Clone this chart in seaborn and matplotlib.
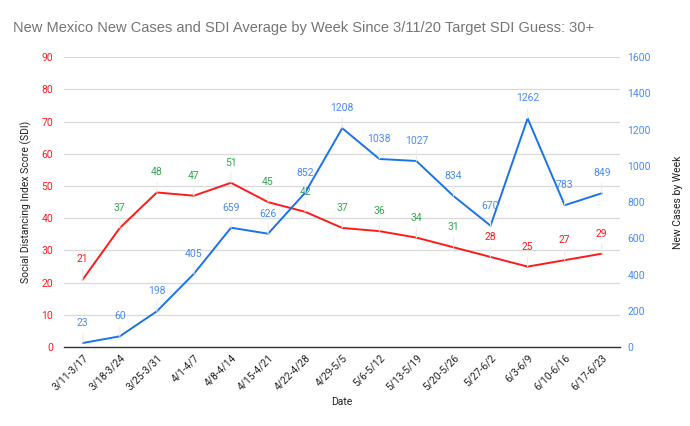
import matplotlib
matplotlib.use("Agg")
import matplotlib.pyplot as plt
import seaborn as sns
import pandas as pd

weeks = ["3/11-3/17", "3/18-3/24", "3/25-3/31", "4/1-4/7", "4/8-4/14", "4/15-4/21",
         "4/22-4/28", "4/29-5/5", "5/6-5/12", "5/13-5/19", "5/20-5/26", "5/27-6/2",
         "6/3-6/9", "6/10-6/16", "6/17-6/23"]
sdi = [21, 37, 48, 47, 51, 45, 42, 37, 36, 34, 31, 28, 25, 27, 29]
cases = [23, 60, 198, 405, 659, 626, 852, 1208, 1038, 1027, 834, 670, 1262, 783, 849]
sdi_label_colors = ["red", "green", "green", "green", "green", "green", "green", "green",
                    "green", "green", "green", "red", "red", "red", "red"]
left_ticks = [0, 10, 20, 30, 40, 50, 60, 70, 80, 90]
right_ticks = [0, 200, 400, 600, 800, 1000, 1200, 1400, 1600]

df = pd.DataFrame({"x": list(range(len(weeks))), "week": weeks, "sdi": sdi, "cases": cases})

sns.set_theme(style="white")
plt.rcParams["font.family"] = ["Roboto", "DejaVu Sans"]

RED = "#ff1a1a"
BLUE_LINE = "#1a73e8"
BLUE_TXT = "#4a8af4"
GREEN = "#34a853"
colmap = {"red": "#ff1a1a", "green": GREEN}

fig = plt.figure(figsize=(6.9, 4.26), dpi=100)
ax = fig.add_axes([0.093, 0.185, 0.806, 0.681])
ax2 = ax.twinx()

sns.lineplot(data=df, x="x", y="sdi", ax=ax, color=RED, linewidth=1.4)
sns.lineplot(data=df, x="x", y="cases", ax=ax2, color=BLUE_LINE, linewidth=1.4)

ax.set_xlim(-0.5, 14.5)
ax.set_ylim(0, 90)
ax2.set_ylim(0, 1600)
ax.set_yticks(left_ticks)
ax2.set_yticks(right_ticks)
ax.set_xticks(range(len(weeks)))
ax.set_xticklabels(weeks, rotation=45, ha="right", rotation_mode="anchor", fontsize=7.4, color="#222222")

ax.tick_params(axis="y", colors=RED, labelsize=7.5, length=0, pad=8)
ax2.tick_params(axis="y", colors=BLUE_TXT, labelsize=7.5, length=0, pad=5)
ax.tick_params(axis="x", length=0, pad=4)

ax.grid(axis="y", color="#d9d9d9", linewidth=0.9)
ax.grid(axis="x", visible=False)
ax2.grid(False)
for a in (ax, ax2):
    for s in a.spines.values():
        s.set_visible(False)
ax.spines["bottom"].set_visible(True)
ax.spines["bottom"].set_color("#333333")
ax.spines["bottom"].set_linewidth(1.0)

ax.set_ylabel("Social Distancing Index Score (SDI)", fontsize=7.5, color="#222222", labelpad=7)
ax2.set_ylabel("New Cases by Week", fontsize=7.5, color="#222222", labelpad=16)
ax.set_xlabel("Date", fontsize=7.5, color="#222222", labelpad=3)

off = 15
for i, (v, c) in enumerate(zip(sdi, sdi_label_colors)):
    ax.annotate("", xy=(i, v), xytext=(0, off - 5), textcoords="offset pixels",
                arrowprops=dict(arrowstyle="-", color="#ececec", lw=0.8, shrinkA=0, shrinkB=0))
    ax.annotate(str(v), xy=(i, v), xytext=(0, off), textcoords="offset pixels",
                ha="center", va="bottom", fontsize=7.5, color=colmap[c])
for i, v in enumerate(cases):
    ax2.annotate("", xy=(i, v), xytext=(0, off - 5), textcoords="offset pixels",
                 arrowprops=dict(arrowstyle="-", color="#ececec", lw=0.8, shrinkA=0, shrinkB=0))
    ax2.annotate(str(v), xy=(i, v), xytext=(0, off), textcoords="offset pixels",
                 ha="center", va="bottom", fontsize=7.5, color=BLUE_TXT)

fig.text(0.019, 0.925, "New Mexico New Cases and SDI Average by Week Since 3/11/20 Target SDI Guess: 30+",
         fontsize=10.5, color="#757575", family=["Liberation Sans", "DejaVu Sans"], va="baseline")

fig.savefig("out.png", dpi=100)
